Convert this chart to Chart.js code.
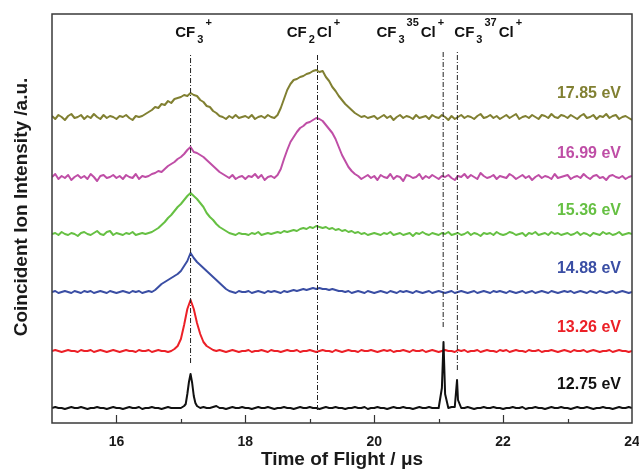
<!DOCTYPE html>
<html>
<head>
<meta charset="utf-8">
<title>Coincidence TOF spectra</title>
<script src="https://cdn.jsdelivr.net/npm/chart.js"></script>
<style>
  html, body { margin: 0; padding: 0; background: #fff; }
  #wrap { width: 639px; height: 469px; }
</style>
</head>
<body>
<div id="wrap"><canvas id="tofChart" width="639" height="469"></canvas></div>
<script>
// photon energies, bottom trace first
const energies = ["12.75", "13.26", "14.88", "15.36", "16.99", "17.85"];
// vertical offset of each trace's baseline (a.u.)
const offsets = [15, 72, 131, 189, 246, 306];
const traceColors = ["#111111", "#ec2027", "#3a4ea4", "#66c043", "#bf4ea6", "#818032"];

// flight time samples, 15.00 .. 24.00 us every 0.05 us
const tof = Array.from({ length: 181 }, (_, i) => +(15 + i * 0.05).toFixed(2));

const sig1275 = [
  0, 1, 0, 0, -1, 0, 1, 0, 0, 1, 0, -1, 0, 0, 1, 0, 0, -1, 0, 1,
  0, 0, -1, 0, 1, 0, 0, 1, -1, 0, 0, 1, 0, 0, -1, 0, 1, 0, 0, 0,
  0, 2, 14, 34, 12, 2, 0, 1, 0, 0, 1, 2, 0, 0, -1, 0, 1, 0, 0, 1,
  0, 0, -1, 0, 1, 0, 0, 1, 0, -1, 0, 0, 1, 0, 0, -1, 0, 1, 0, 0,
  1, 0, 0, -1, 0, 1, 0, 0, 1, 0, 0, -1, 0, 0, 1, 0, 0, 1, -1, 0,
  0, 1, 0, 0, -1, 0, 1, 0, 0, 1, 0, 0, -1, 0, 1, 0, 0, 1, 0, 0,
  0, 20, 14, 0, 1, 1, 8, 0, 0, 1, 0, -1, 0, 0, 1, 0, 0, 1, 0, 0,
  -1, 0, 0, 1, 0, 0, 1, -1, 0, 0, 1, 0, 0, -1, 0, 1, 0, 0, 1, 0,
  0, -1, 0, 1, 0, 0, 1, 0, -1, 0, 0, 1, 0, 0, -1, 0, 1, 0, 0, 1, 0
];
// extra samples on the narrow 12.75 eV peaks
const sig1275Peaks = [
  [17.075, 4], [17.125, 26], [17.175, 25], [17.225, 5], [21.075, 66], [21.285, 28]
];

const sig1326 = [
  0, 1, 0, -1, 0, 1, 0, 0, -1, 1, 0, 0, 1, -1, 0, 1, 0, -1, 0, 1,
  0, -1, 0, 1, 0, 0, -1, 1, 0, 0, 1, -1, 0, 1, 0, 0, -1, 0, 2, 5,
  12, 26, 42, 51, 42, 28, 17, 9, 5, 3, 1, 0, 1, 0, -1, 0, 1, 0, -1, 0,
  0, 1, -1, 0, 0, 1, 0, -1, 1, 0, 0, -1, 0, 1, 0, 0, 1, -1, 0, 0,
  1, 0, -1, 0, 1, 0, 0, -1, 1, 0, -1, 0, 1, 0, 0, -1, 1, 0, 0, 1,
  0, -1, 0, 1, 0, 1, -1, 0, 0, 1, 0, -1, 1, 0, 0, 1, -1, 0, 1, 0,
  -1, 0, 1, 0, 0, -1, 1, 0, 1, -1, 0, 0, 1, -1, 0, 1, 0, 0, -1, 1,
  0, 1, -1, 0, 1, 0, 0, -1, 1, 0, 0, 1, -1, 0, 0, 1, 0, -1, 0, 1,
  0, -1, 1, 0, 0, 1, -1, 0, 1, 0, -1, 0, 0, 1, -1, 0, 1, 0, 0, -1, 0
];

const sig1488 = [
  0, 1, -1, 0, 1, 0, -1, 1, 0, -1, 1, 0, 1, -1, 0, 1, 0, -1, 1, 0,
  -1, 0, 1, 0, -1, 1, 0, 1, -1, 0, 1, 0, 2, 5, 8, 10, 12, 14, 16, 18,
  21, 26, 31, 39, 34, 30, 27, 24, 21, 18, 15, 12, 9, 6, 3, 1, 0, -1, 1, 0,
  0, 1, -1, 0, 1, 0, -1, 1, 0, 1, 0, -1, 1, 0, 1, 2, 1, 2, 3, 2,
  3, 4, 3, 4, 3, 3, 2, 3, 2, 1, 1, 0, 1, -1, 0, 1, 0, -1, 1, 0,
  -1, 0, 1, 0, -1, 1, 0, -1, 1, 0, 1, 0, -1, 1, 0, -1, 0, 1, -1, 0,
  1, 0, -1, 0, 1, -1, 0, 1, 0, -1, 0, 1, -1, 0, 1, 0, -1, 1, 0, 1,
  0, -1, 1, 0, -1, 0, 1, -1, 0, 1, -1, 0, 1, 0, -1, 1, 0, -1, 0, 1,
  0, 1, -1, 0, 1, 0, -1, 1, 0, -1, 1, 0, -1, 0, 1, -1, 0, 1, 0, -1, 0
];

const sig1536 = [
  0, 1, -1, 2, 0, -1, 1, 0, -2, 1, 2, 0, -1, 1, 3, 0, -1, 2, 3, -1,
  1, 0, -1, 1, 0, 2, -1, 0, 1, 0, 1, 2, 4, 6, 9, 12, 16, 19, 23, 27,
  30, 34, 38, 41, 38, 35, 31, 27, 21, 17, 14, 10, 7, 5, 3, 1, 0, -1, 1, 0,
  0, -1, 1, 0, 2, -1, 0, 1, 0, 1, 2, 1, 3, 2, 3, 4, 3, 5, 6, 5,
  7, 6, 8, 7, 6, 7, 5, 6, 4, 5, 3, 4, 2, 3, 1, 2, 0, 1, -1, 0,
  1, 0, -1, 1, 0, 2, -1, 0, 1, -1, 0, 1, -2, 1, 0, 2, 0, -1, 1, 0,
  -1, 1, 0, 2, -1, 0, 1, -1, 0, 2, -1, 1, 0, -2, 1, 0, 1, -1, 2, 0,
  -1, 0, 2, 1, -1, 0, 1, -2, 1, 0, 2, -1, 0, 1, -1, 2, 0, 1, -1, 0,
  1, -1, 0, 2, -1, 1, 0, -2, 1, 0, -1, 2, 0, 1, -1, 0, 2, -1, 0, 1, 0
];

const sig1699 = [
  0, 3, -2, 1, -1, 2, -3, 0, 2, -1, 1, -2, 3, 0, -4, 1, 2, -1, 0, 2,
  -1, 1, -2, 2, 0, -1, 3, -2, 1, 0, 1, 3, 4, 6, 5, 8, 11, 13, 15, 18,
  20, 23, 27, 30, 25, 24, 22, 20, 17, 14, 11, 8, 5, 3, 1, -1, 2, -2, 0, 1,
  -2, 1, 0, 3, -1, 2, -3, 0, 1, -1, 2, 8, 18, 27, 35, 40, 45, 49, 51, 54,
  55, 57, 59, 58, 56, 52, 48, 44, 38, 30, 22, 16, 10, 6, 3, 1, -2, 0, 2, -1,
  1, -3, 2, 0, -1, 3, -2, 1, 0, -4, 2, 1, -1, 0, 3, -2, 1, -1, 2, 0,
  -2, 1, 0, 2, -1, -3, 1, 0, 3, -1, 2, 0, -2, 4, 1, -1, 0, 2, -2, 1,
  0, -1, 3, 1, -2, 0, 2, -1, 1, -3, 0, 2, -1, 1, 0, -2, 3, -1, 0, 1,
  2, -2, 0, 1, -1, 3, 0, -2, 1, 2, -1, 0, -3, 1, 2, 0, -1, 1, -2, 0, 1
];

const sig1785 = [
  1, -2, 2, 0, -3, 1, 3, -1, 0, 2, -2, 1, -1, 3, 0, -2, 2, -1, 1, 0,
  -2, 1, 0, 2, -1, -3, 1, 0, 1, 3, 5, 7, 10, 9, 13, 12, 16, 14, 18, 19,
  20, 22, 21, 24, 22, 21, 17, 15, 11, 10, 6, 4, 1, 0, -2, 1, -1, 2, -1, 0,
  1, -1, 2, -2, 0, 1, -1, 2, 0, -1, 2, 9, 18, 27, 33, 37, 38, 40, 41, 43,
  44, 46, 47, 45, 46, 40, 36, 30, 26, 21, 17, 13, 10, 7, 4, 2, 0, 1, -1, 0,
  1, -2, 0, 2, -1, 1, -3, 0, 2, -1, 1, 0, -2, 2, -1, 0, 1, -2, 2, 0,
  -1, 2, 0, -3, 1, -2, 0, 2, -1, 1, 0, -2, 1, 3, -1, 0, 2, -1, 1, -2,
  0, 2, -1, 1, 3, -2, 0, 1, -1, 2, 0, -2, 2, 1, -1, 3, 0, -1, 2, 1,
  -1, 2, 0, -2, 1, 3, -1, 0, 2, -2, 1, 0, 3, -1, 1, 2, -2, 0, 1, -1, -3
];

const signals = [sig1275, sig1326, sig1488, sig1536, sig1699, sig1785];

// ion assignment guides: flight time and vertical extent (a.u.)
const guideTimes = [17.15, 19.12, 21.07, 21.29];
const guideLow = [60, 13, 96, 53];
const guideHigh = [368, 370, 373, 373];

const FONT = '"Liberation Sans", Arial, Helvetica, sans-serif';
const Y_TITLE = "Coincident Ion Intensity /a.u.";

// ion labels: [text, 'n' | 'sub' | 'sup']
const ionLabels = [
  { at: 17.15, align: "center", shift: 3, parts: [["CF", "n"], ["3", "sub"], ["+", "sup"]] },
  { at: 19.12, align: "center", shift: -4, parts: [["CF", "n"], ["2", "sub"], ["Cl", "n"], ["+", "sup"]] },
  { at: 21.07, align: "right", shift: 1, parts: [["CF", "n"], ["3", "sub"], ["35", "sup"], ["Cl", "n"], ["+", "sup"]] },
  { at: 21.29, align: "left", shift: -3, parts: [["CF", "n"], ["3", "sub"], ["37", "sup"], ["Cl", "n"], ["+", "sup"]] }
];

function buildTrace(values, offset, extra) {
  const pts = values.map((v, i) => ({ x: tof[i], y: v + offset }));
  if (extra) extra.forEach(([t, v]) => pts.push({ x: t, y: v + offset }));
  return pts.sort((a, b) => a.x - b.x);
}

const datasets = [];

guideTimes.forEach((t, i) => {
  datasets.push({
    label: "guide " + t,
    data: [{ x: t, y: guideLow[i] }, { x: t, y: guideHigh[i] }],
    borderColor: "#222",
    borderWidth: 1,
    borderDash: [5, 2, 1, 2],
    pointRadius: 0
  });
});

signals.forEach((sig, i) => {
  datasets.push({
    label: energies[i] + " eV",
    data: buildTrace(sig, offsets[i], i === 0 ? sig1275Peaks : null),
    borderColor: traceColors[i],
    borderWidth: 2,
    borderJoinStyle: "round",
    pointRadius: 0,
    tension: 0
  });
});

const overlay = {
  id: "overlay",
  afterDatasetsDraw(chart) {
    const { ctx, chartArea: a, scales: { x, y } } = chart;
    ctx.save();

    // inward ticks on the time axis
    ctx.strokeStyle = "#333";
    ctx.lineWidth = 1.2;
    for (let t = 16; t < 24; t++) {
      const px = Math.round(x.getPixelForValue(t)) + 0.5;
      const len = t % 2 === 0 ? 8 : 4;
      ctx.beginPath();
      ctx.moveTo(px, a.bottom);
      ctx.lineTo(px, a.bottom - len);
      ctx.stroke();
    }

    // frame
    ctx.strokeStyle = "#3a3a3a";
    ctx.lineWidth = 1.5;
    ctx.strokeRect(a.left, a.top, a.right - a.left, a.bottom - a.top);

    // y axis title, sitting a little above the middle
    ctx.save();
    ctx.translate(22, 207);
    ctx.rotate(-Math.PI / 2);
    ctx.font = "bold 19px " + FONT;
    ctx.fillStyle = "#1a1a1a";
    ctx.textAlign = "center";
    ctx.textBaseline = "middle";
    ctx.fillText(Y_TITLE, 0, 0);
    ctx.restore();

    // ion labels with sub/superscripts
    const mainFont = "bold 15px " + FONT;
    const smallFont = "bold 11px " + FONT;
    const baseY = a.top + 23;
    ctx.fillStyle = "#111";
    ctx.textBaseline = "alphabetic";
    ctx.textAlign = "left";
    ionLabels.forEach(lbl => {
      let widths = [], total = 0, prev = null;
      lbl.parts.forEach(([txt, kind]) => {
        ctx.font = kind === "n" ? mainFont : smallFont;
        const gap = prev && prev !== kind ? 2 : 0;
        const w = ctx.measureText(txt).width;
        widths.push([gap, w]);
        total += gap + w;
        prev = kind;
      });
      const ax = x.getPixelForValue(lbl.at) + lbl.shift;
      let cx = lbl.align === "center" ? ax - total / 2 : lbl.align === "right" ? ax - total : ax;
      lbl.parts.forEach(([txt, kind], k) => {
        ctx.font = kind === "n" ? mainFont : smallFont;
        cx += widths[k][0];
        const dy = kind === "sub" ? 6 : kind === "sup" ? -11 : 0;
        ctx.fillText(txt, cx, baseY + dy);
        cx += widths[k][1];
      });
    });

    // energy labels next to each trace
    ctx.font = "bold 16px " + FONT;
    ctx.textAlign = "right";
    ctx.textBaseline = "middle";
    energies.forEach((e, i) => {
      ctx.fillStyle = traceColors[i];
      ctx.fillText(e + " eV", a.right - 11, y.getPixelForValue(offsets[i] + 23));
    });

    ctx.restore();
  }
};

new Chart(document.getElementById("tofChart"), {
  type: "line",
  data: { datasets },
  options: {
    responsive: false,
    animation: false,
    devicePixelRatio: 1,
    layout: { padding: { top: 14, right: 7, left: 0, bottom: 0 } },
    plugins: {
      legend: { display: false },
      tooltip: { enabled: false }
    },
    scales: {
      x: {
        type: "linear",
        min: 15,
        max: 24,
        grid: { display: false, drawTicks: false },
        border: { display: false },
        ticks: {
          stepSize: 1,
          padding: 11,
          color: "#1a1a1a",
          font: { family: FONT, size: 14, weight: "bold" },
          callback: v => (v % 2 === 0 ? v : "")
        },
        title: {
          display: true,
          text: "Time of Flight / \u03bcs",
          color: "#1a1a1a",
          font: { family: FONT, size: 19, weight: "bold", lineHeight: 1 },
          padding: { top: 0, bottom: 0 }
        },
        afterFit(scale) {
          scale.height = 46;
          scale.paddingLeft = 0;
          scale.paddingRight = 0;
        }
      },
      y: {
        min: 0,
        max: 409,
        grid: { display: false, drawTicks: false },
        border: { display: false },
        ticks: { display: false },
        title: { display: false },
        afterFit(scale) { scale.width = 52; }
      }
    }
  },
  plugins: [overlay]
});
</script>
</body>
</html>
